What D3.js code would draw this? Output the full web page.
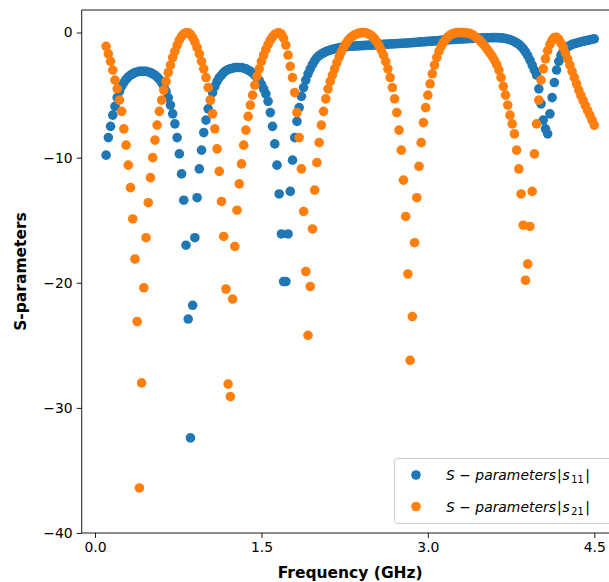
<!DOCTYPE html>
<html>
<head>
<meta charset="utf-8">
<script src="https://cdn.jsdelivr.net/npm/d3@7"></script>
<style>
  body { margin: 0; background: #fff; }
  svg { display: block; }
  text { font-family: "DejaVu Sans", sans-serif; }
</style>
</head>
<body>
<svg id="chart" width="609" height="582"></svg>
<script>
// Frequency sweep: 0.10 GHz to 4.50 GHz in 0.02 GHz steps
const freqStart = 0.10;
const freqStep = 0.02;

// |S11| in dB, one value per sweep point
const s11 = [
  -9.8, -8.4, -7.5, -6.6, -5.9, -5.2, -4.7, -4.3, -4.0, -3.75,
  -3.55, -3.4, -3.3, -3.2, -3.15, -3.1, -3.1, -3.1, -3.1, -3.15,
  -3.2, -3.3, -3.4, -3.55, -3.75, -4.0, -4.3, -4.7, -5.2, -5.8,
  -6.5, -7.3, -8.4, -9.7, -11.3, -13.4, -17.0, -22.9, -32.4, -21.8,
  -16.4, -13.2, -10.9, -9.4, -8.0, -7.0, -6.1, -5.4, -4.8, -4.3,
  -3.9, -3.6, -3.4, -3.2, -3.05, -2.95, -2.9, -2.85, -2.8, -2.8,
  -2.8, -2.8, -2.85, -2.9, -3.0, -3.1, -3.25, -3.4, -3.6, -3.85,
  -4.15, -4.5, -4.9, -5.5, -6.4, -7.5, -8.9, -10.6, -12.9, -16.1,
  -19.9, -19.9, -16.1, -12.7, -10.2, -8.4, -7.1, -6.0, -5.1, -4.4,
  -3.8, -3.3, -2.9, -2.55, -2.25, -2.0, -1.85, -1.72, -1.62, -1.53,
  -1.46, -1.4, -1.35, -1.3, -1.26, -1.22, -1.19, -1.16, -1.14, -1.12,
  -1.1, -1.09, -1.08, -1.07, -1.06, -1.05, -1.04, -1.03, -1.02, -1.01,
  -1.0, -0.99, -0.98, -0.97, -0.96, -0.95, -0.94, -0.93, -0.92, -0.91,
  -0.9, -0.89, -0.88, -0.87, -0.86, -0.85, -0.84, -0.82, -0.81, -0.8,
  -0.78, -0.77, -0.75, -0.74, -0.73, -0.71, -0.7, -0.69, -0.67, -0.66,
  -0.64, -0.63, -0.61, -0.6, -0.59, -0.57, -0.56, -0.55, -0.54, -0.53,
  -0.52, -0.51, -0.5, -0.49, -0.48, -0.47, -0.46, -0.45, -0.45, -0.44,
  -0.43, -0.43, -0.42, -0.42, -0.41, -0.41, -0.41, -0.42, -0.43, -0.45,
  -0.48, -0.52, -0.57, -0.64, -0.72, -0.82, -0.95, -1.1, -1.3, -1.55,
  -1.85, -2.2, -2.6, -3.0, -3.4, -4.5, -5.7, -7.0, -7.7, -8.1,
  -6.5, -5.2, -4.0, -3.0, -2.3, -1.8, -1.5, -1.3, -1.15, -1.05,
  -0.95, -0.9, -0.85, -0.8, -0.75, -0.7, -0.66, -0.62, -0.58, -0.54,
  -0.5
];

// |S21| in dB, one value per sweep point
const s21 = [
  -1.1, -1.7, -2.3, -3.0, -3.8, -4.5, -5.4, -6.3, -7.7, -9.0,
  -10.6, -12.4, -14.9, -18.1, -23.1, -36.4, -28.0, -20.4, -16.4, -13.6,
  -11.6, -10.0, -8.6, -7.4, -6.3, -5.4, -4.6, -3.9, -3.2, -2.6,
  -2.0, -1.5, -1.0, -0.6, -0.3, -0.1, -0.02, -0.03, -0.15, -0.4,
  -0.75, -1.2, -1.7, -2.3, -2.9, -3.6, -4.4, -5.4, -6.5, -7.7,
  -9.3, -11.1, -13.5, -16.3, -20.5, -28.1, -29.1, -21.3, -17.1, -14.2,
  -12.1, -10.5, -9.0, -7.8, -6.7, -5.8, -5.0, -4.2, -3.5, -2.9,
  -2.3, -1.8, -1.35, -0.95, -0.6, -0.35, -0.15, -0.04, -0.02, -0.12,
  -0.45, -1.0, -1.8, -2.7, -3.6, -4.8, -6.4, -8.4, -10.9, -14.3,
  -19.1, -24.2, -20.3, -15.7, -12.6, -10.4, -8.8, -7.4, -6.3, -5.3,
  -4.5, -3.9, -3.4, -2.9, -2.4, -1.95, -1.55, -1.2, -0.9, -0.65,
  -0.45, -0.3, -0.18, -0.1, -0.04, -0.01, 0.0, -0.02, -0.08, -0.18,
  -0.32, -0.5, -0.75, -1.05, -1.4, -1.8, -2.3, -2.9, -3.6, -4.4,
  -5.3, -6.4, -7.8, -9.4, -11.8, -14.7, -19.3, -26.2, -22.7, -16.8,
  -13.2, -10.7, -8.8, -7.2, -6.0, -5.0, -4.1, -3.3, -2.6, -2.0,
  -1.5, -1.1, -0.8, -0.55, -0.35, -0.2, -0.1, -0.04, -0.01, 0.0,
  0.0, -0.01, -0.02, -0.05, -0.09, -0.17, -0.28, -0.42, -0.57, -0.75,
  -0.95, -1.17, -1.4, -1.65, -1.9, -2.2, -2.55, -3.0, -3.6, -4.3,
  -5.0, -5.8, -6.6, -7.3, -8.1, -9.4, -10.9, -12.9, -15.4, -19.8,
  -18.5, -15.5, -12.7, -9.7, -7.3, -5.4, -3.8, -2.9, -2.1, -1.45,
  -0.95, -0.6, -0.4, -0.38, -0.55, -0.85, -1.2, -1.65, -2.1, -2.6,
  -3.1, -3.6, -4.1, -4.6, -5.05, -5.45, -5.85, -6.25, -6.6, -7.0,
  -7.4
];

const xTicks = [0.0, 1.5, 3.0, 4.5];
const yTicks = [0, -10, -20, -30, -40];
const seriesColors = ["#1f77b4", "#ff7f0e"];
const legendSubs = ["11", "21"];

const freqs = s11.map((_, i) => +(freqStart + i * freqStep).toFixed(2));

const svg = d3.select("#chart");
const W = 609, H = 582;
const plot = { left: 81.7, right: 618.7, top: 10, bottom: 533 };

const x = d3.scaleLinear().domain([-0.12, 4.72]).range([plot.left, plot.right]);
const y = d3.scaleLinear().domain([-40, 1.8]).range([plot.bottom, plot.top]);

svg.append("rect").attr("width", W).attr("height", H).attr("fill", "#fff");

// Scatter points: S11 first, S21 drawn on top
const r = 4.8;
const series = [s11, s21];
series.forEach((vals, k) => {
  svg.append("g")
    .selectAll("circle")
    .data(vals.map((v, i) => ({ f: freqs[i], v })))
    .join("circle")
    .attr("cx", d => x(d.f))
    .attr("cy", d => y(d.v))
    .attr("r", r)
    .attr("fill", seriesColors[k]);
});

// Spines
const spine = svg.append("g").attr("stroke", "#000").attr("stroke-width", 0.9).attr("fill", "none");
spine.append("line").attr("x1", plot.left).attr("x2", plot.left).attr("y1", plot.top).attr("y2", plot.bottom);
spine.append("line").attr("x1", plot.left).attr("x2", W).attr("y1", plot.top).attr("y2", plot.top);
spine.append("line").attr("x1", plot.left).attr("x2", W).attr("y1", plot.bottom).attr("y2", plot.bottom);

// Axes
const minus = v => (v < 0 ? "\u2212" + Math.abs(v) : String(v));
const yAxis = d3.axisLeft(y).tickValues(yTicks).tickFormat(minus).tickSize(5).tickPadding(4);
const xAxis = d3.axisBottom(x).tickValues(xTicks).tickFormat(d3.format(".1f")).tickSize(5).tickPadding(4);

const gy = svg.append("g").attr("transform", `translate(${plot.left},0)`).call(yAxis);
const gx = svg.append("g").attr("transform", `translate(0,${plot.bottom})`).call(xAxis);
[gx, gy].forEach(g => {
  g.select(".domain").remove();
  g.selectAll(".tick line").attr("stroke", "#000").attr("stroke-width", 0.9);
  g.selectAll(".tick text").attr("fill", "#000").style("font-size", "13.9px")
    .style("font-family", "'DejaVu Sans', sans-serif");
});

// Axis titles
svg.append("text")
  .attr("x", (plot.left + plot.right) / 2)
  .attr("y", 577.5)
  .attr("text-anchor", "middle")
  .style("font-size", "15.5px").style("font-weight", "bold")
  .text("Frequency (GHz)");

svg.append("text")
  .attr("transform", `translate(25.5,${(plot.top + plot.bottom) / 2}) rotate(-90)`)
  .attr("text-anchor", "middle")
  .style("font-size", "15.5px").style("font-weight", "bold")
  .text("S-parameters");

// Legend
const leg = svg.append("g");
leg.append("rect")
  .attr("x", 394.5).attr("y", 458.5).attr("width", 222).attr("height", 65).attr("rx", 3)
  .attr("fill", "#fff").attr("fill-opacity", 0.8).attr("stroke", "#cccccc");
legendSubs.forEach((sub, k) => {
  const cy = 475 + k * 31.5;
  leg.append("circle").attr("cx", 416).attr("cy", cy).attr("r", r).attr("fill", seriesColors[k]);
  const t = leg.append("text").attr("x", 446).attr("y", cy + 5).style("font-size", "13.9px").attr("fill", "#000");
  t.append("tspan").style("font-style", "italic").text("S");
  t.append("tspan").text(" \u2212 ");
  t.append("tspan").style("font-style", "italic").text("parameters");
  t.append("tspan").attr("dx", 1).text("|");
  t.append("tspan").attr("dx", 1).style("font-style", "italic").text("s");
  t.append("tspan").attr("dx", 1.5).attr("dy", 3).style("font-size", "9.7px").text(sub);
  t.append("tspan").attr("dx", 1.5).attr("dy", -3).text("|");
});
</script>
</body>
</html>
